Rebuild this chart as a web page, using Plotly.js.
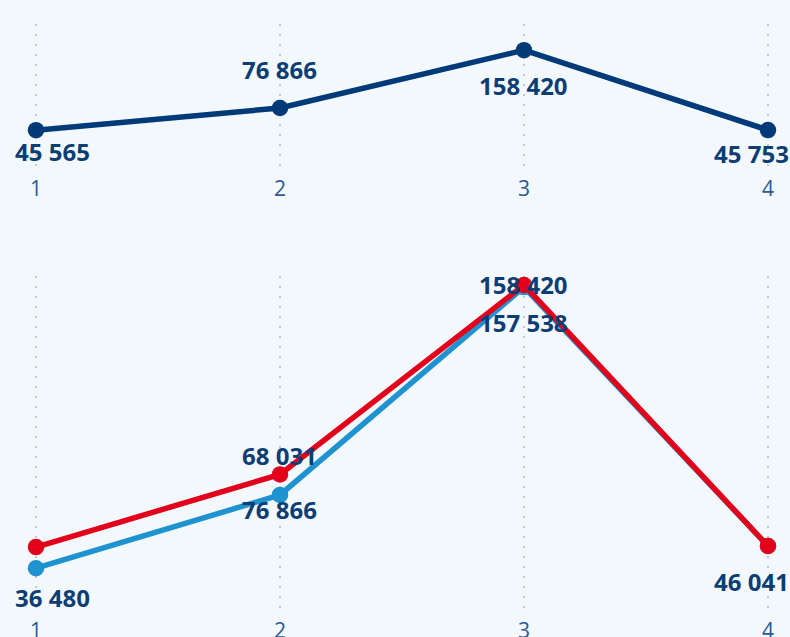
<!DOCTYPE html>
<html><head><meta charset="utf-8">
<script src="https://cdn.plot.ly/plotly-3.0.1.min.js"></script>
<style>html,body{margin:0;padding:0;background:#f3f8fd;}#chart{width:790px;height:637px;}</style>
</head><body><div id="chart"></div>
<script>
const categories = [1, 2, 3, 4];
const topValues = [45565, 76866, 158420, 45753];
const topLabels = ["45 565", "76 866", "158 420", "45 753"];

const blueValues = [36480, 68031, 157538, 46041];
const blueLabels = ["36 480", "76 866", "157 538", "46 041"];
const redValues = [45565, 76866, 158420, 46041];
const redLabels = ["", "68 031", "158 420", ""];

const navy = "#003a78", light = "#1e93d0", red = "#e3001b", labelColor = "#0c3d73";
const labelFont = {family: "Open Sans", size: 24, color: labelColor, weight: 700};

// label placement (pixel offsets: positive = below the point)
const topOffsets = [23, -36, 37, 25];
const blueOffsets = [31, 17, 37, 37];
const redOffsets = [0, -17, 1, 0];
const edgeShift = [17, 0, 0, -16];

function lineTrace(y, color, xa, ya) {
  return {x: categories, y: y, xaxis: xa, yaxis: ya, mode: "lines+markers",
    line: {color: color, width: 5.5}, marker: {color: color, size: 16.5}, cliponaxis: false};
}
const data = [
  lineTrace(topValues, navy, "x", "y"),
  lineTrace(blueValues, light, "x2", "y2"),
  lineTrace(redValues, red, "x2", "y2")
];

const annotations = [];
function addLabels(values, labels, offsets, xref, yref) {
  categories.forEach((c, i) => {
    if (!labels[i]) return;
    annotations.push({x: c, y: values[i], xref: xref, yref: yref, text: labels[i],
      showarrow: false, font: labelFont, xshift: edgeShift[i], yshift: -offsets[i] + 2,
      xanchor: "center", yanchor: "middle"});
  });
}
addLabels(topValues, topLabels, topOffsets, "x", "y");
addLabels(blueValues, blueLabels, blueOffsets, "x2", "y2");
addLabels(redValues, redLabels, redOffsets, "x2", "y2");

const xBase = {range: [0.8525, 4.0902], tickvals: categories, showgrid: true,
  gridcolor: "#c6c9cc", griddash: "2px,8px", gridwidth: 1.3, zeroline: false, showline: false,
  tickfont: {family: "Open Sans", size: 21, color: "#2a5a93"}, ticks: "", fixedrange: true};
const yBase = {showgrid: false, zeroline: false, showticklabels: false, showline: false, fixedrange: true};

const layout = {
  width: 790, height: 637, margin: {l: 0, r: 0, t: 0, b: 0},
  paper_bgcolor: "#f3f8fd", plot_bgcolor: "#f3f8fd", showlegend: false, hovermode: false,
  annotations: annotations,
  xaxis: Object.assign({}, xBase, {anchor: "y", ticklabelstandoff: 6}),
  yaxis: Object.assign({}, yBase, {domain: [0.736, 0.962], range: [-8042, 195098], anchor: "x"}),
  xaxis2: Object.assign({}, xBase, {anchor: "y2", ticklabelstandoff: 8}),
  yaxis2: Object.assign({}, yBase, {domain: [0.0455, 0.5667], range: [19344, 162295], anchor: "x2"})
};
Plotly.newPlot("chart", data, layout, {displayModeBar: false, staticPlot: true});
</script></body></html>
